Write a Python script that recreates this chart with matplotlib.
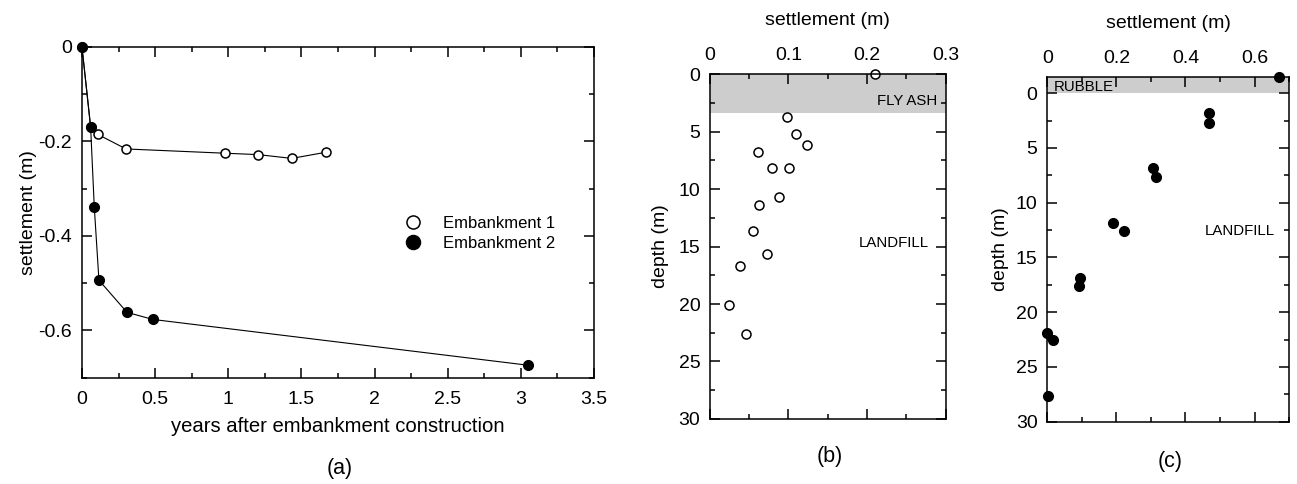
import matplotlib
matplotlib.use('Agg')
import matplotlib.pyplot as plt
from matplotlib.ticker import MultipleLocator

plt.rcParams['font.family'] = ['Liberation Sans', 'DejaVu Sans']

# (a) settlement vs time
emb1_years = [0.0, 0.059, 0.107, 0.301, 0.975, 1.205, 1.434, 1.667]
emb1_settle = [0.0, -0.169, -0.185, -0.216, -0.225, -0.228, -0.236, -0.223]
emb2_years = [0.0, 0.059, 0.084, 0.116, 0.308, 0.484, 3.05]
emb2_settle = [0.0, -0.169, -0.338, -0.494, -0.562, -0.577, -0.674]

# (b) embankment 1 profile
b_settle = [0.210, 0.098, 0.109, 0.123, 0.061, 0.079, 0.101, 0.088, 0.063,
            0.055, 0.073, 0.038, 0.024, 0.046]
b_depth = [0.0, 3.77, 5.22, 6.2, 6.81, 8.14, 8.2, 10.67, 11.39, 13.68, 15.68,
           16.72, 20.1, 22.6]

# (c) embankment 2 profile
c_settle = [0.671, 0.469, 0.469, 0.307, 0.314, 0.190, 0.222, 0.096, 0.091,
            0.0, 0.017, 0.001]
c_depth = [-1.49, 1.82, 2.71, 6.84, 7.66, 11.89, 12.58, 16.87, 17.63, 21.88,
           22.58, 27.62]

fs = 14
fig = plt.figure(figsize=(12.97, 4.84), dpi=100)


def style(ax, top_labels=False):
    for s in ax.spines.values():
        s.set_linewidth(1.1)
    ax.tick_params(which='both', direction='in', top=True, right=True,
                   width=1.1, labelsize=fs)
    ax.tick_params(which='major', length=7)
    ax.tick_params(which='minor', length=3.5)
    if top_labels:
        ax.tick_params(labeltop=True, labelbottom=False, pad=7)
        ax.xaxis.set_label_position('top')
    ax.tick_params(axis='y', pad=7)


# ---- (a)
ax1 = fig.add_axes([0.0632, 0.22, 0.3948, 0.683])
ax1.plot(emb1_years, emb1_settle, '-', color='black', lw=0.8,
         marker='o', mfc='white', mec='black', mew=1.1, ms=6.5,
         label='Embankment 1', clip_on=False, zorder=2)
ax1.plot(emb2_years, emb2_settle, '-', color='black', lw=0.8,
         marker='o', mfc='black', mec='black', ms=7, label='Embankment 2',
         clip_on=False, zorder=3)
ax1.set_xlim(0, 3.5)
ax1.set_ylim(-0.7, 0)
ax1.xaxis.set_minor_locator(MultipleLocator(0.25))
ax1.yaxis.set_minor_locator(MultipleLocator(0.1))
ax1.set_xticks([0, 0.5, 1, 1.5, 2, 2.5, 3, 3.5])
ax1.set_xticklabels(['0', '0.5', '1', '1.5', '2', '2.5', '3', '3.5'])
ax1.set_yticks([0, -0.2, -0.4, -0.6])
ax1.set_yticklabels(['0', '-0.2', '-0.4', '-0.6'])
style(ax1)
ax1.tick_params(axis='x', pad=10)
ax1.set_xlabel('years after embankment construction', fontsize=14.6,
               labelpad=6)
ax1.set_ylabel('settlement (m)', fontsize=fs, labelpad=1)
leg = ax1.legend(loc='center left', bbox_to_anchor=(0.6, 0.437), frameon=False,
                 fontsize=12, handlelength=1.0, handletextpad=1.3,
                 labelspacing=0.3, markerscale=1.45)
for h in leg.get_lines():
    h.set_linestyle('')
fig.text(0.2621, 0.033, '(a)', ha='center', va='center', fontsize=15.5)

# ---- (b)
ax2 = fig.add_axes([0.5474, 0.1343, 0.1816, 0.7128])
ax2.axhspan(0, 3.42, color='#cdcdcd', zorder=0, lw=0)
ax2.plot(b_settle, b_depth, 'o', mfc='white', mec='black', mew=1.1, ms=6.5,
         clip_on=False)
ax2.set_xlim(0, 0.3)
ax2.set_ylim(30, 0)
ax2.xaxis.set_minor_locator(MultipleLocator(0.05))
ax2.yaxis.set_minor_locator(MultipleLocator(2.5))
ax2.set_xticks([0, 0.1, 0.2, 0.3])
ax2.set_xticklabels(['0', '0.1', '0.2', '0.3'])
ax2.set_yticks([0, 5, 10, 15, 20, 25, 30])
style(ax2, top_labels=True)
ax2.set_xlabel('settlement (m)', fontsize=fs, labelpad=16)
ax2.set_ylabel('depth (m)', fontsize=fs, labelpad=7)
ax2.text(0.290, 2.35, 'FLY ASH', ha='right', va='center', fontsize=10.8)
ax2.text(0.279, 14.7, 'LANDFILL', ha='right', va='center', fontsize=10.8)
fig.text(0.640, 0.057, '(b)', ha='center', va='center', fontsize=15.5)

# ---- (c)
ax3 = fig.add_axes([0.8075, 0.1287, 0.1864, 0.7128])
ax3.axhspan(-1.5, 0, color='#cdcdcd', zorder=0, lw=0)
ax3.plot(c_settle, c_depth, 'o', mfc='black', mec='black', ms=7,
         clip_on=False)
ax3.set_xlim(0, 0.7)
ax3.set_ylim(30, -1.5)
ax3.xaxis.set_minor_locator(MultipleLocator(0.1))
ax3.set_xticks([0, 0.2, 0.4, 0.6])
ax3.set_xticklabels(['0', '0.2', '0.4', '0.6'])
ax3.set_yticks([0, 5, 10, 15, 20, 25, 30])
ax3.yaxis.set_minor_locator(MultipleLocator(2.5))
style(ax3, top_labels=True)
ax3.set_xlabel('settlement (m)', fontsize=fs, labelpad=16)
ax3.set_ylabel('depth (m)', fontsize=fs, labelpad=5)
ax3.text(0.02, -0.57, 'RUBBLE', ha='left', va='center', fontsize=10.8)
ax3.text(0.659, 12.55, 'LANDFILL', ha='right', va='center', fontsize=10.8)
fig.text(0.902, 0.047, '(c)', ha='center', va='center', fontsize=15.5)

fig.savefig('out.png', dpi=100)
